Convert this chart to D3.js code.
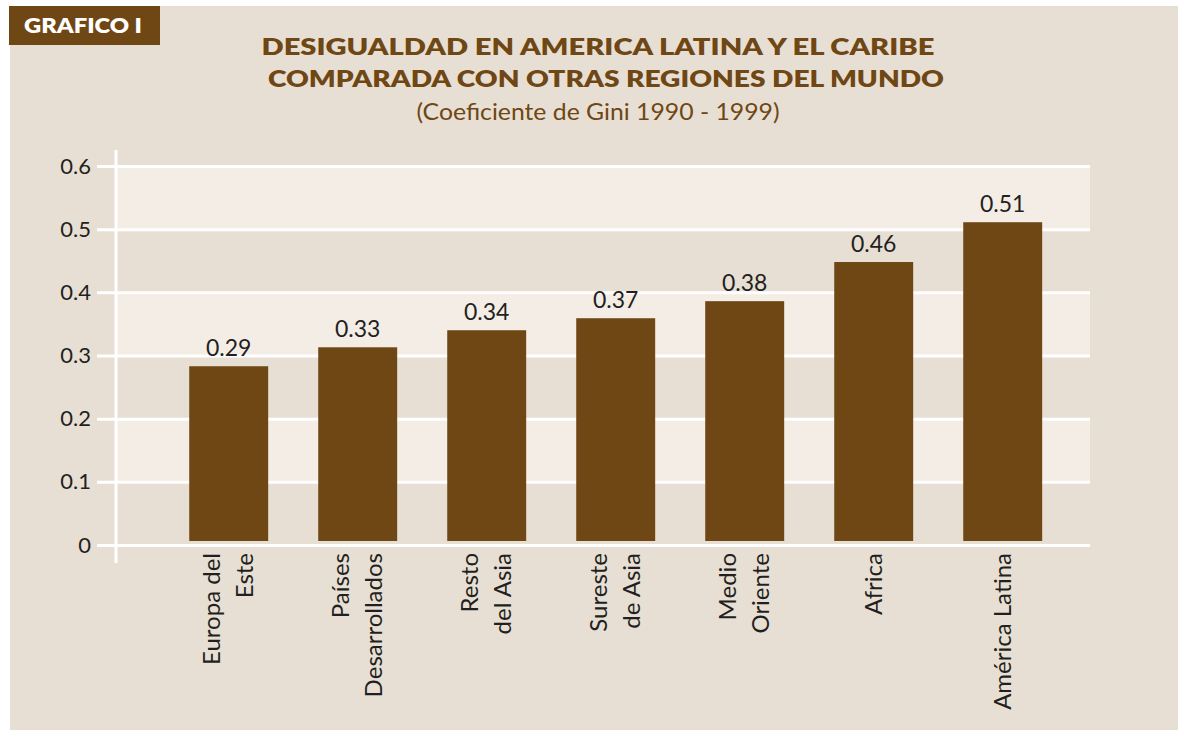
<!DOCTYPE html>
<html>
<head>
<meta charset="utf-8">
<script src="https://cdn.jsdelivr.net/npm/d3@7"></script>
<style>
  html, body { margin: 0; padding: 0; background: #fff; }
  svg { display: block; font-family: Lato, "Open Sans", sans-serif; }
</style>
</head>
<body>
<svg id="chart"></svg>
<script>
// regiones y coeficiente de Gini (altura de barra)
const regions = [
    ['Europa del', 'Este'],
    ['Países', 'Desarrollados'],
    ['Resto', 'del Asia'],
    ['Sureste', 'de Asia'],
    ['Medio', 'Oriente'],
    ['Africa'],
    ['América Latina'],
];
const giniValues = [0.283, 0.313, 0.340, 0.359, 0.386, 0.448, 0.511];
const valueLabels = ['0.29', '0.33', '0.34', '0.37', '0.38', '0.46', '0.51'];
const yTicks = [0, 0.1, 0.2, 0.3, 0.4, 0.5, 0.6];
const yTickLabels = ['0', '0.1', '0.2', '0.3', '0.4', '0.5', '0.6'];

const W = 1178, H = 731;
const brown = '#6f4714';
const panel = '#e8dfd4';
const light = '#f4ede6';
const ink = '#231f20';

const svg = d3.select('#chart').attr('width', W).attr('height', H);

svg.append('rect')
    .attr('x', 10).attr('y', 6)
    .attr('width', W - 10).attr('height', 724)
    .attr('fill', panel);

// etiqueta "GRAFICO 1"
svg.append('rect')
    .attr('x', 9).attr('y', 6)
    .attr('width', 151).attr('height', 39)
    .attr('fill', brown);
svg.append('text')
    .attr('x', 24).attr('y', 33)
    .attr('fill', '#fff')
    .attr('font-weight', 800)
    .attr('font-size', 20)
    .attr('textLength', 118)
    .attr('lengthAdjust', 'spacingAndGlyphs')
    .text('GRAFICO I');

// titulos
const title = svg.append('text')
    .attr('text-anchor', 'middle')
    .attr('fill', brown);
title.append('tspan')
    .attr('x', 598).attr('y', 55)
    .attr('font-weight', 800).attr('font-size', 23)
    .attr('textLength', 673)
    .attr('lengthAdjust', 'spacingAndGlyphs')
    .text('DESIGUALDAD EN AMERICA LATINA Y EL CARIBE');
title.append('tspan')
    .attr('x', 606).attr('y', 87)
    .attr('font-weight', 800).attr('font-size', 23)
    .attr('textLength', 676)
    .attr('lengthAdjust', 'spacingAndGlyphs')
    .text('COMPARADA CON OTRAS REGIONES DEL MUNDO');
title.append('tspan')
    .attr('x', 598).attr('y', 120)
    .attr('font-size', 23)
    .attr('textLength', 363)
    .attr('lengthAdjust', 'spacingAndGlyphs')
    .text('(Coeficiente de Gini 1990 - 1999)');

// escalas
const plotLeft = 116, plotRight = 1090;
const y = d3.scaleLinear().domain([0, 0.6]).range([545, 166]);
const x = d3.scaleBand()
    .domain(d3.range(regions.length))
    .range([164.2, 1067.2])
    .paddingInner(0.388)
    .paddingOuter(0.194);

// bandas alternadas
const bands = [[0.5, 0.6], [0.3, 0.4], [0.1, 0.2]];
svg.append('g')
    .selectAll('rect')
    .data(bands)
    .join('rect')
    .attr('x', plotLeft)
    .attr('y', d => y(d[1]))
    .attr('width', plotRight - plotLeft)
    .attr('height', d => y(d[0]) - y(d[1]))
    .attr('fill', light);

// eje y con lineas de cuadricula
const yAxis = svg.append('g')
    .attr('transform', `translate(${plotLeft}, 0)`)
    .call(d3.axisLeft(y)
        .tickValues(yTicks)
        .tickFormat((d, i) => yTickLabels[i])
        .tickSize(19)
        .tickPadding(6));
yAxis.select('.domain').remove();
yAxis.selectAll('.tick line')
    .attr('x2', plotRight - plotLeft)
    .attr('x1', -19)
    .attr('stroke', '#fff')
    .attr('stroke-width', 3);
yAxis.selectAll('.tick text')
    .attr('fill', ink)
    .attr('font-size', 22)
    .attr('font-family', 'Lato, sans-serif');

svg.append('line')
    .attr('x1', plotLeft).attr('x2', plotLeft)
    .attr('y1', 150).attr('y2', 563)
    .attr('stroke', '#fff')
    .attr('stroke-width', 3);

// barras
svg.append('g')
    .selectAll('rect')
    .data(giniValues)
    .join('rect')
    .attr('x', (d, i) => x(i))
    .attr('y', d => y(d))
    .attr('width', x.bandwidth())
    .attr('height', d => y(0) - 4 - y(d))
    .attr('fill', brown);

svg.append('g')
    .selectAll('text')
    .data(giniValues)
    .join('text')
    .attr('x', (d, i) => x(i) + x.bandwidth() / 2)
    .attr('y', d => y(d) - 10)
    .attr('text-anchor', 'middle')
    .attr('fill', ink)
    .attr('font-size', 23)
    .text((d, i) => valueLabels[i]);

// etiquetas del eje x (rotadas)
const lineGap = 33;
const xLabels = svg.append('g')
    .selectAll('g')
    .data(regions)
    .join('g')
    .attr('transform', (d, i) =>
        `translate(${x(i) + x.bandwidth() / 2}, 553) rotate(-90)`);
xLabels.selectAll('text')
    .data(d => d.map((t, k) => ({ t, k, n: d.length })))
    .join('text')
    .attr('x', 0)
    .attr('y', d => (d.k - (d.n - 1) / 2) * lineGap + 8)
    .attr('text-anchor', 'end')
    .attr('fill', ink)
    .attr('font-size', 24)
    .text(d => d.t);
</script>
</body>
</html>
